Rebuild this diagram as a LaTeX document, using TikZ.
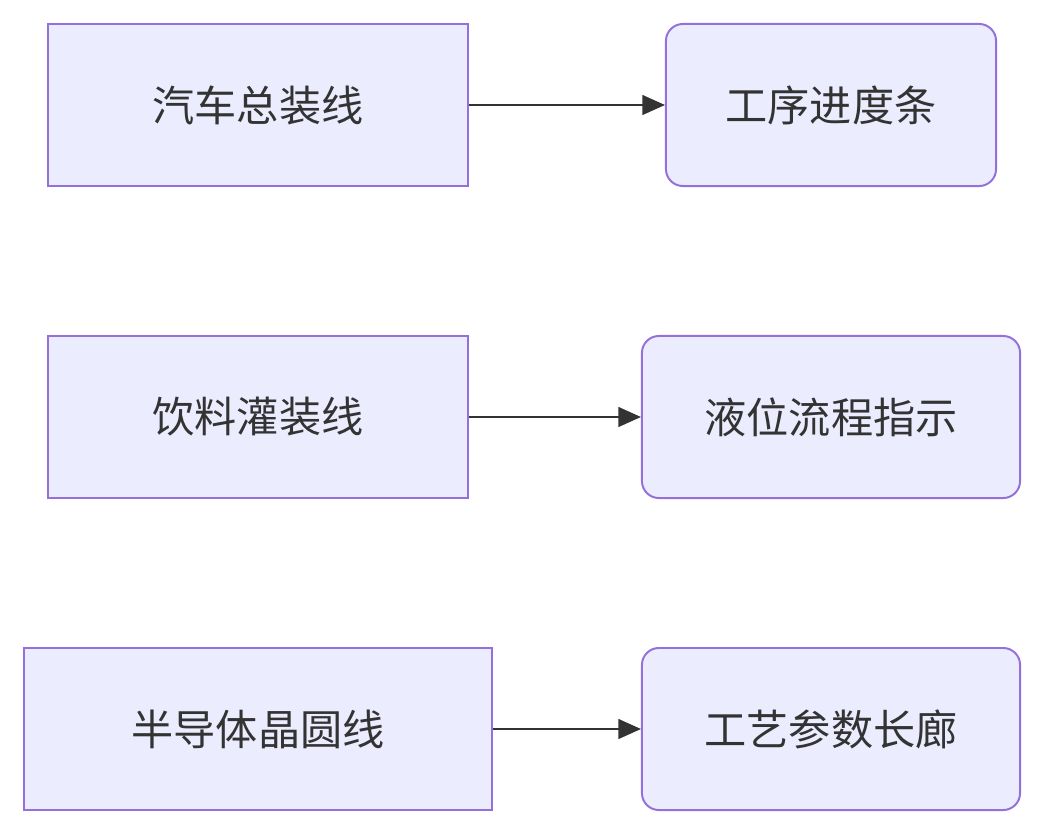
\documentclass[tikz,border=0pt]{standalone}
\usepackage{fontspec}
\setmainfont{Noto Sans CJK SC}
\usetikzlibrary{arrows.meta,positioning}
\definecolor{boxfill}{HTML}{ECECFF}
\definecolor{boxline}{HTML}{9370DB}
\definecolor{linkcol}{HTML}{333333}
\begin{document}
\begin{tikzpicture}[x=0.025cm, y=-0.025cm,
    line/.style={draw=boxline, fill=boxfill, line width=1.4pt, minimum height=4.05cm, font=\fontsize{30}{36}\selectfont, text=linkcol, inner sep=0pt},
    proc/.style={line},
    view/.style={line, rounded corners=12pt},
    arrow/.style={-{Triangle[length=16pt,width=14pt]}, draw=linkcol, fill=linkcol, line width=1.4pt}
]
    \useasboundingbox (0,0) rectangle (1044,834);
    % source lines
    \node[proc, minimum width=10.5cm] (car) at (258,105) {汽车总装线};
    \node[proc, minimum width=10.5cm] (drink) at (258,417) {饮料灌装线};
    \node[proc, minimum width=11.7cm] (wafer) at (258,729) {半导体晶圆线};
    % views
    \node[view, minimum width=8.25cm] (bar) at (831,105) {工序进度条};
    \node[view, minimum width=9.45cm] (level) at (831,417) {液位流程指示};
    \node[view, minimum width=9.45cm] (gallery) at (831,729) {工艺参数长廊};
    % links
    \draw[arrow] (car) -- (bar);
    \draw[arrow] (drink) -- (level);
    \draw[arrow] (wafer) -- (gallery);
\end{tikzpicture}
\end{document}
